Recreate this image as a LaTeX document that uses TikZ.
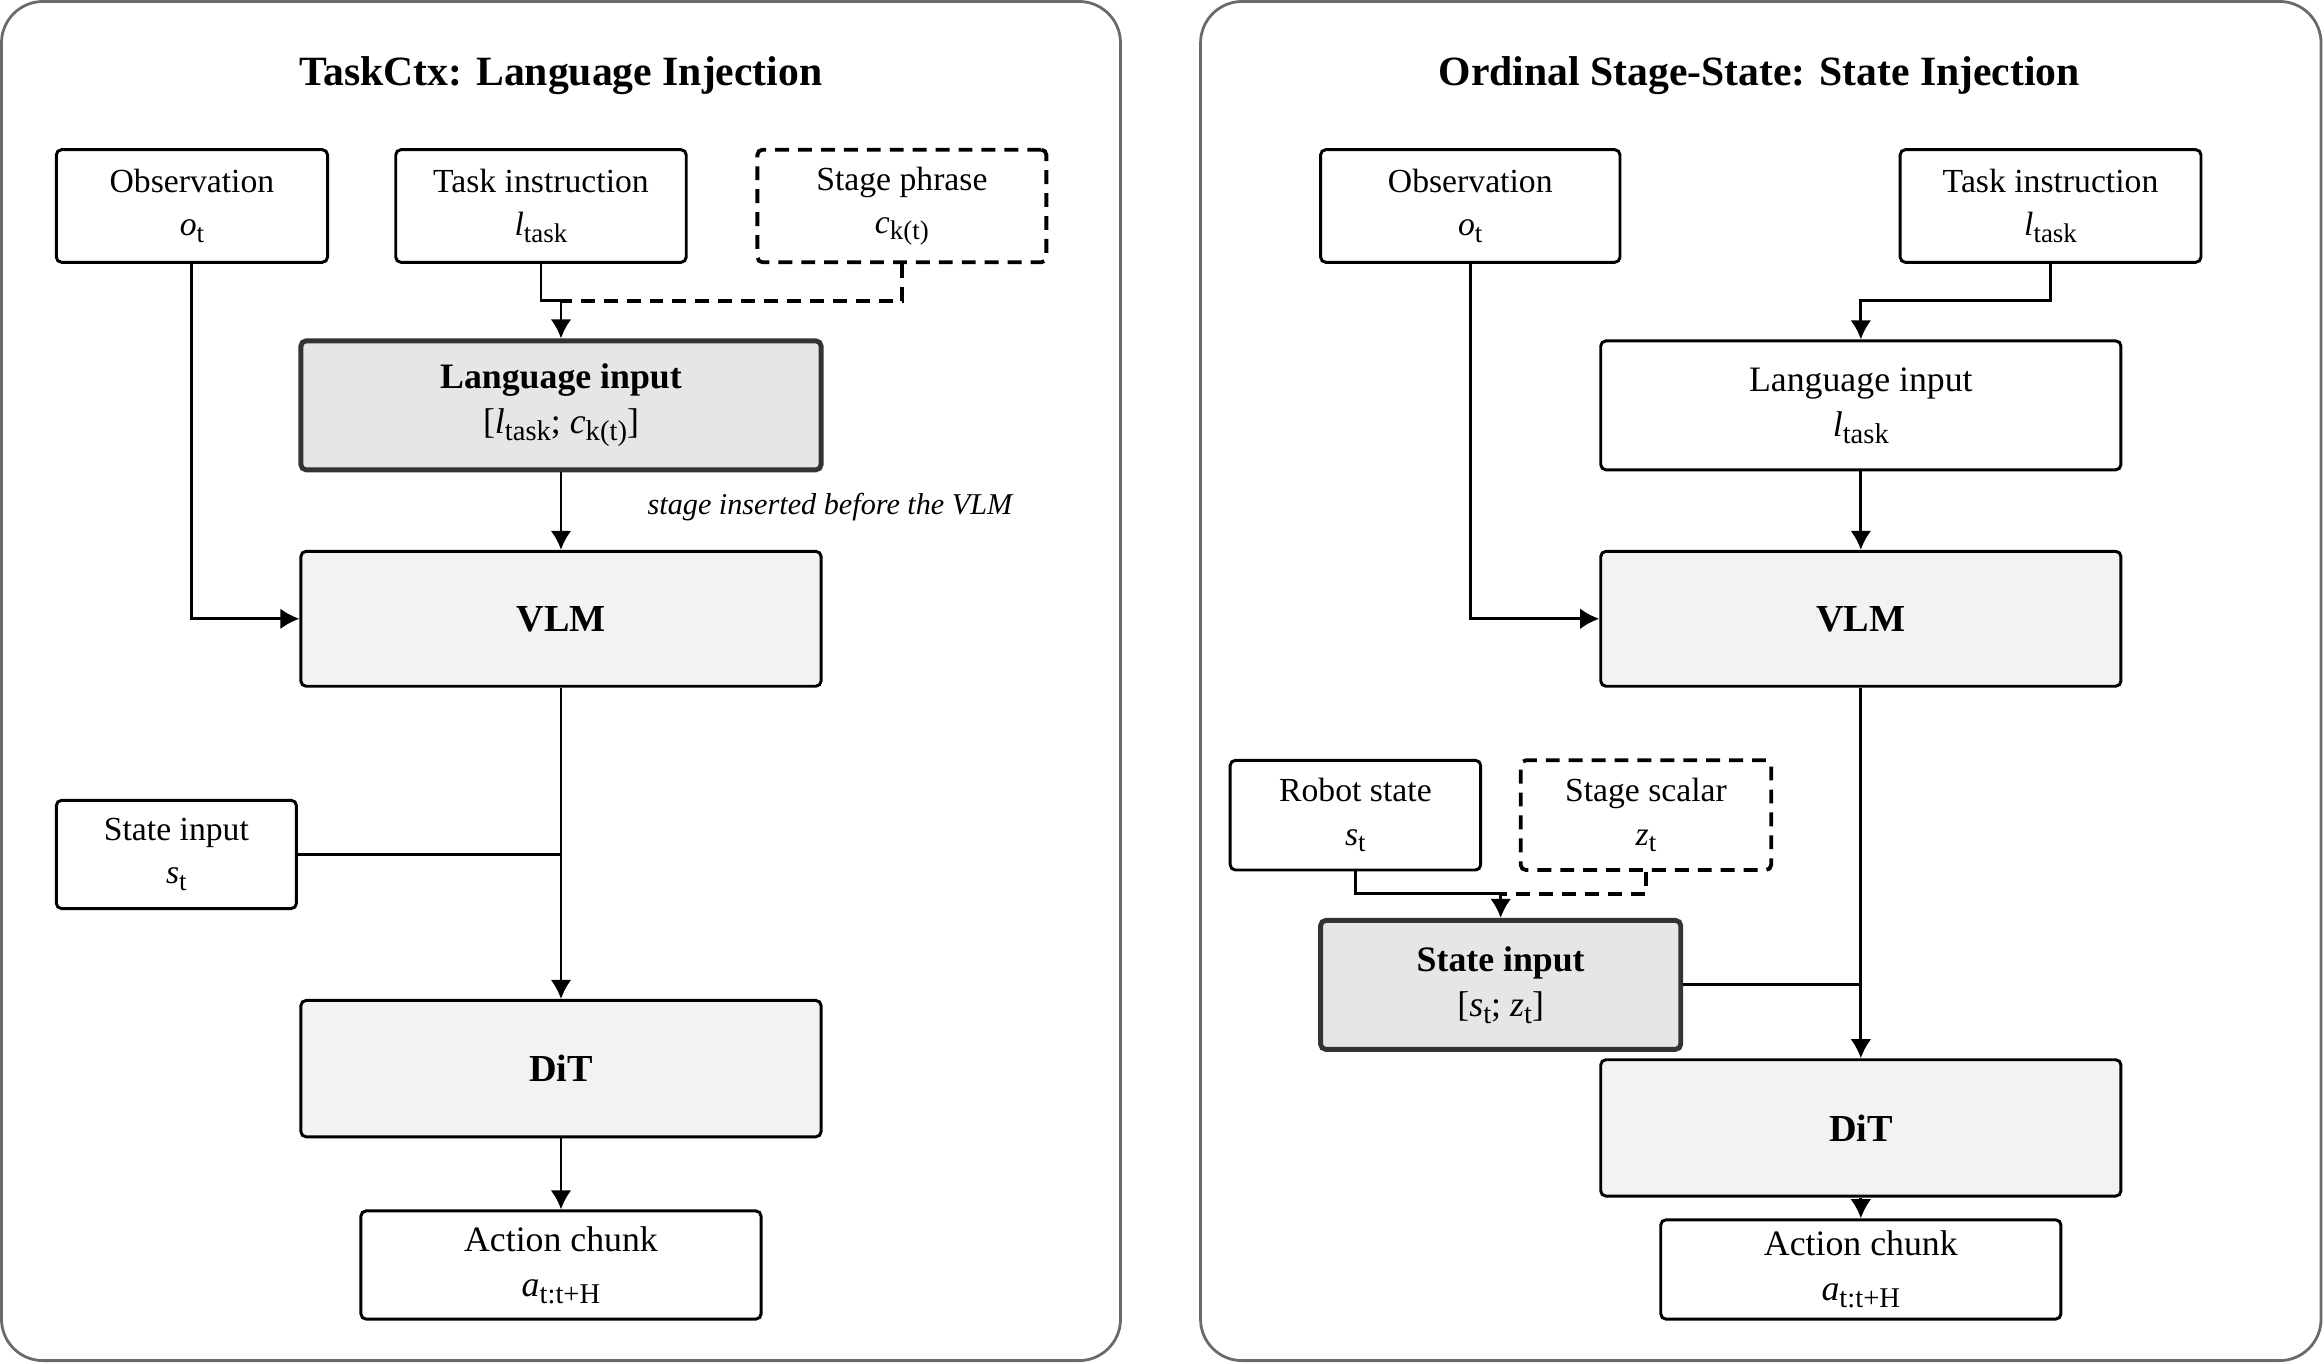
\documentclass[tikz,border=0pt]{standalone}
\usepackage{fontspec}
\usepackage{graphicx}
\setmainfont{Liberation Serif}
\usetikzlibrary{arrows.meta}
\definecolor{fusedfill}{HTML}{E6E6E6}
\definecolor{corefill}{HTML}{F2F2F2}
\definecolor{fusedline}{HTML}{333333}
\definecolor{panelgray}{HTML}{6A6A6A}
\newcommand{\sym}[2]{\textit{#1}\raisebox{-0.42ex}{\scalebox{0.8}{#2}}}

\begin{document}
\begin{tikzpicture}[x=0.015cm, y=-0.015cm, line width=0.85pt, >={Latex[length=5.5pt,width=6pt]},
    sz/.style 2 args={minimum width=#1*0.015cm, minimum height=#2*0.015cm},
    inbox/.style={draw, rounded corners=1.5pt, line width=0.85pt, fill=white, align=center, inner sep=0pt, font=\fontsize{9.7}{12.4}\selectfont},
    stagebox/.style={inbox, dash pattern=on 4pt off 2.6pt, line width=1.1pt},
    outbox/.style={inbox, font=\fontsize{10.3}{13}\selectfont},
    fusedbox/.style={outbox, fill=fusedfill, draw=fusedline, line width=1.4pt},
    corebox/.style={inbox, fill=corefill, font=\fontsize{11}{13}\selectfont\bfseries},
    ttl/.style={font=\fontsize{12}{14}\selectfont\bfseries},
    note/.style={font=\fontsize{8.7}{10}\selectfont\itshape},
    dline/.style={dash pattern=on 4pt off 2.6pt, line width=1.1pt},
    panel/.style={draw=panelgray, line width=0.8pt, rounded corners=0.42cm}]

    \useasboundingbox (0,0) rectangle (1568,920);

    % TaskCtx panel
    \draw[panel] (1,1) rectangle (756,918);
    \node[ttl] (titleL) at (378.5,51) {TaskCtx: Language Injection};

    \node[inbox, sz={183}{76}] (obsL) at (129.5,139) {Observation\\\sym{o}{t}};
    \node[inbox, sz={196}{76}] (taskL) at (365,139) {Task instruction\\\sym{l}{task}};
    \node[stagebox, sz={195}{76}] (stageL) at (608.5,139) {Stage phrase\\\sym{c}{k(t)}};
    \node[fusedbox, sz={351}{87}] (langL) at (378.5,273.5) {\textbf{Language input}\\{}[\sym{l}{task}; \sym{c}{k(t)}]};
    \node[corebox, sz={351}{91}] (vlmL) at (378.5,417.5) {VLM};
    \node[inbox, sz={162}{73}] (stateL) at (119,576.5) {State input\\\sym{s}{t}};
    \node[corebox, sz={351}{92}] (ditL) at (378.5,721) {DiT};
    \node[outbox, sz={270}{73}] (actL) at (378.5,853.5) {Action chunk\\\sym{a}{t:t+H}};

    \coordinate (jL) at (378.5,203);
    \draw[->] (taskL.south) |- (jL) -- (langL.north);
    \draw[dline] (stageL.south) |- (jL);
    \draw[->] (langL) -- (vlmL);
    \node[note] (noteL) at (560,342) {stage inserted before the VLM};
    \draw[->] (obsL.south) |- (vlmL.west);
    \draw[->] (vlmL) -- (ditL);
    \draw (stateL.east) -- (stateL.east -| vlmL.south);
    \draw[->] (ditL) -- (actL);

    % Ordinal Stage-State panel
    \draw[panel] (810,1) rectangle (1566,918);
    \node[ttl] (titleR) at (1187,51) {Ordinal Stage-State: State Injection};

    \node[inbox, sz={202}{76}] (obsR) at (992,139) {Observation\\\sym{o}{t}};
    \node[inbox, sz={203}{76}] (taskR) at (1383.5,139) {Task instruction\\\sym{l}{task}};
    \node[outbox, sz={351}{87}] (langR) at (1255.5,273.5) {Language input\\\sym{l}{task}};
    \node[corebox, sz={351}{91}] (vlmR) at (1255.5,417.5) {VLM};
    \node[inbox, sz={169}{74}] (robotR) at (914.5,550) {Robot state\\\sym{s}{t}};
    \node[stagebox, sz={169}{74}] (stageR) at (1110.5,550) {Stage scalar\\\sym{z}{t}};
    \node[fusedbox, sz={243}{87}] (stateR) at (1012.5,664.5) {\textbf{State input}\\{}[\sym{s}{t}; \sym{z}{t}]};
    \node[corebox, sz={351}{92}] (ditR) at (1255.5,761) {DiT};
    \node[outbox, sz={270}{67}] (actR) at (1255.5,856.5) {Action chunk\\\sym{a}{t:t+H}};

    \coordinate (jR) at (1255.5,203);
    \coordinate (kR) at (1012.5,603);
    \draw[->] (taskR.south) |- (jR) -- (langR.north);
    \draw[->] (langR) -- (vlmR);
    \draw[->] (obsR.south) |- (vlmR.west);
    \draw[->] (robotR.south) |- (kR) -- (stateR.north);
    \draw[dline] (stageR.south) |- (kR);
    \draw[->] (vlmR) -- (ditR);
    \draw (stateR.east) -- (stateR.east -| vlmR.south);
    \draw[->] (ditR) -- (actR);

\end{tikzpicture}
\end{document}
